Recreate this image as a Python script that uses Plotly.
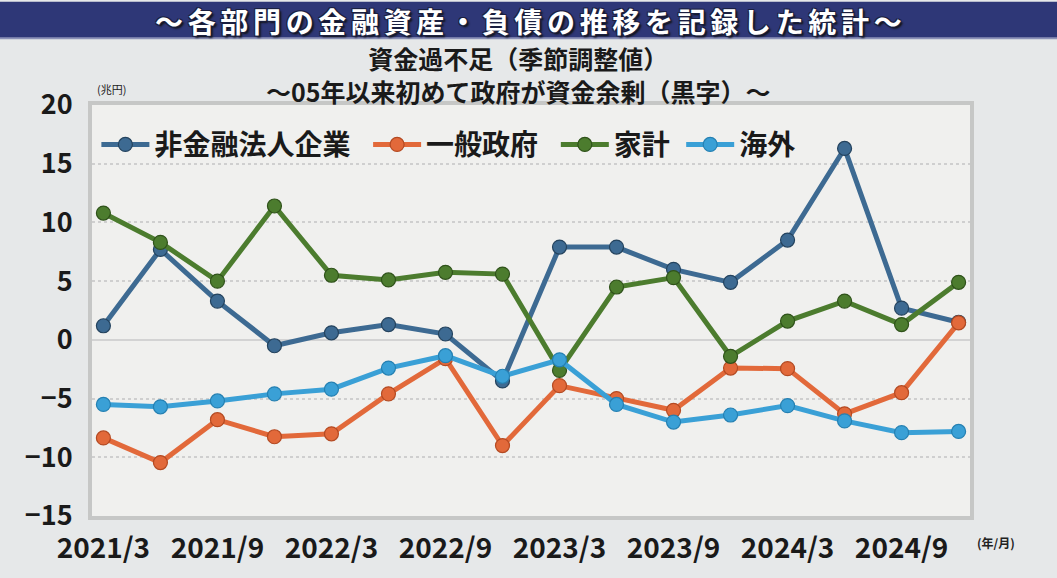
import plotly.graph_objects as go

# ---- data ----
quarters = ["2021/3", "2021/6", "2021/9", "2021/12", "2022/3", "2022/6", "2022/9", "2022/12",
            "2023/3", "2023/6", "2023/9", "2023/12", "2024/3", "2024/6", "2024/9", "2024/12"]
tick_labels = ["2021/3", "2021/9", "2022/3", "2022/9", "2023/3", "2023/9", "2024/3", "2024/9"]
y_ticks = [20, 15, 10, 5, 0, -5, -10, -15]

corp = [1.2, 7.7, 3.3, -0.5, 0.6, 1.3, 0.5, -3.5, 7.9, 7.9, 6.0, 4.9, 8.5, 16.3, 2.7, 1.5]
gov = [-8.35, -10.45, -6.8, -8.25, -8.0, -4.6, -1.6, -9.0, -3.9, -5.0, -6.0, -2.4, -2.45, -6.3, -4.5, 1.45]
household = [10.8, 8.3, 5.0, 11.4, 5.5, 5.1, 5.75, 5.6, -2.6, 4.5, 5.3, -1.4, 1.6, 3.3, 1.3, 4.9]
overseas = [-5.5, -5.7, -5.2, -4.6, -4.2, -2.4, -1.35, -3.1, -1.7, -5.5, -7.0, -6.4, -5.6, -6.9, -7.9, -7.8]

series = [
    ("非金融法人企業", corp, "#3d6a92", "#24435e", 2),
    ("一般政府", gov, "#e2693a", "#b44a22", 2),
    ("家計", household, "#4c7c2e", "#2f521a", 1),
    ("海外", overseas, "#3aa0d6", "#2580b2", 0),
]

header_text = "〜各部門の金融資産・負債の推移を記録した統計〜"
title_text = "資金過不足（季節調整値）<br>〜05年以来初めて政府が資金余剰（黒字）〜"

JP = "Noto Sans CJK JP"
W, H = 1057, 578
L, R, T, B = 92, 970, 105, 523  # plot area in pixels


def px(x):
    return (x - L) / (R - L)


def py(y):
    return (B - y) / (B - T)


fig = go.Figure()
for name, vals, col, edge, pad in series:
    fig.add_trace(go.Scatter(
        x=quarters, y=vals, name=name + "\u00a0" * pad, mode="lines+markers",
        line=dict(color=col, width=5),
        marker=dict(size=14, color=col, line=dict(color=edge, width=1.2)),
    ))

# header band
fig.add_shape(type="rect", xref="paper", yref="paper",
              x0=px(0), x1=px(W), y0=py(37), y1=py(0),
              fillcolor="#2e3777", line=dict(width=0), layer="below")
fig.add_shape(type="line", xref="paper", yref="paper",
              x0=px(0), x1=px(W), y0=py(37), y1=py(37),
              line=dict(color="#8c92b8", width=2))

spaced_header = "\u2006".join(header_text)

annotations = [
    dict(text=spaced_header, x=px(528), y=py(19.5),
         font=dict(family=JP, size=28, color="white", weight="bold",
                   shadow="-1px -1px 0 #1a1f40, 1px -1px 0 #1a1f40, -1px 1px 0 #1a1f40, 1px 1px 0 #1a1f40, 2px 2px 2px #111"),
         xanchor="center", yanchor="middle", borderpad=0),
    dict(text=title_text, x=px(518), y=py(73.5),
         font=dict(family=JP, size=25, color="#1a1a1a", weight="bold"),
         xanchor="center", yanchor="middle", align="center", borderpad=0),
    dict(text="(兆円)", x=px(95), y=py(89),
         font=dict(family=JP, size=11, color="#222"), xanchor="left", yanchor="middle"),
    dict(text="(年/月)", x=px(975), y=py(550),
         font=dict(family=JP, size=12, color="#222", weight="bold"), xanchor="left", yanchor="middle"),
]
for a in annotations:
    a.update(xref="paper", yref="paper", showarrow=False)
fig.update_layout(annotations=annotations)

fig.update_layout(
    width=W, height=H,
    margin=dict(l=L, r=W - R, t=T, b=H - B),
    paper_bgcolor="#e6e8e9",
    plot_bgcolor="#f0f0ee",
    font=dict(family=JP, color="#1a1a1a"),
    showlegend=True,
    legend=dict(orientation="h", x=0.005, y=py(120), xanchor="left", yanchor="top",
                font=dict(family=JP, size=28, color="#1a1a1a", weight="bold"),
                bgcolor="rgba(0,0,0,0)", itemwidth=48, tracegroupgap=0),
    xaxis=dict(type="category", range=[-0.2, 15.2], tickmode="array",
               tickvals=tick_labels, ticktext=tick_labels, ticks="",
               showgrid=False, zeroline=False,
               showline=True, mirror=True, linecolor="#c6c7c6", linewidth=4,
               tickfont=dict(family=JP, size=28, color="#1a1a1a", weight="bold"),
               ticklabelstandoff=4),
    yaxis=dict(range=[-15, 20], tickmode="array", tickvals=y_ticks,
               ticktext=[str(v).replace("-", "−") for v in y_ticks],
               ticks="", showgrid=True, gridcolor="#cfcfcf", griddash="dot", gridwidth=1.5,
               zeroline=True, zerolinecolor="#d3d3d3", zerolinewidth=2,
               showline=True, mirror=True, linecolor="#c6c7c6", linewidth=4,
               tickfont=dict(family=JP, size=27, color="#1a1a1a", weight="bold"),
               ticklabelstandoff=10),
)

fig.write_html("out.html")
